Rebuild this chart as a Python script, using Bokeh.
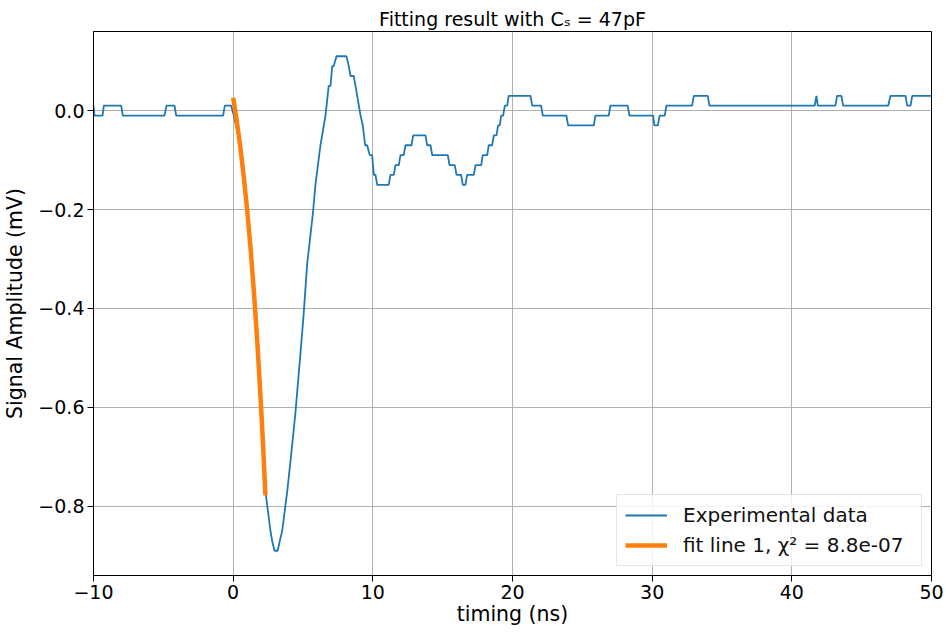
from bokeh.plotting import figure
from bokeh.models import (Range1d, FixedTicker, CustomJSTickFormatter, Legend,
                          LegendItem)
from bokeh.embed import file_html
from bokeh.resources import INLINE

# ---------------- data ----------------
time_ns = [-10.0, -9.93, -9.35, -9.26, -8.02, -7.9, -4.92, -4.77, -4.2, -4.08,
           -0.72, -0.6, -0.14, 0.05, 0.5, 1.0, 1.5, 2.0, 2.31, 2.67,
           2.79, 2.96, 3.19, 3.34, 3.51, 3.87, 4.10, 4.46, 4.82, 5.05,
           5.30, 5.70, 5.89, 6.25, 6.61, 6.84, 6.97, 7.09, 7.20, 7.40,
           8.11, 8.28, 8.40, 8.63, 8.76, 8.88, 9.0, 9.12, 9.28, 9.45,
           9.59, 9.78, 9.95, 10.07, 10.19, 10.31, 11.14, 11.26, 11.5, 11.62,
           11.86, 11.98, 12.21, 12.34, 12.77, 12.89, 13.77, 13.89, 14.13, 14.25,
           15.37, 15.49, 15.87, 15.99, 16.32, 16.44, 16.63, 16.75, 17.23, 17.35,
           17.76, 17.87, 18.19, 18.3, 18.54, 18.66, 18.85, 18.97, 19.09, 19.19,
           19.33, 19.45, 19.62, 19.73, 21.29, 21.41, 22.05, 22.17, 23.86, 23.98,
           25.82, 25.94, 26.89, 27.01, 28.25, 28.37, 30.07, 30.16, 30.4, 30.54,
           30.9, 31.02, 32.86, 32.98, 33.98, 34.1, 41.64, 41.76, 41.86, 43.12,
           43.24, 43.55, 43.67, 46.9, 47.06, 48.14, 48.26, 48.5, 48.62, 50.0]
amp_mv = [0.01, -0.01, -0.01, 0.01, 0.01, -0.01, -0.01, 0.01, 0.01, -0.01,
          -0.01, 0.01, 0.01, -0.01, -0.07, -0.19, -0.37, -0.59, -0.77, -0.85,
          -0.87, -0.89, -0.89, -0.87, -0.85, -0.77, -0.71, -0.61, -0.49, -0.41,
          -0.31, -0.21, -0.15, -0.07, -0.01, 0.05, 0.05, 0.09, 0.09, 0.11,
          0.11, 0.09, 0.07, 0.07, 0.05, 0.03, 0.01, -0.01, -0.03, -0.07,
          -0.07, -0.09, -0.09, -0.13, -0.13, -0.15, -0.15, -0.13, -0.13, -0.11,
          -0.11, -0.09, -0.09, -0.07, -0.07, -0.05, -0.05, -0.07, -0.07, -0.09,
          -0.09, -0.11, -0.11, -0.13, -0.13, -0.15, -0.15, -0.13, -0.13, -0.11,
          -0.11, -0.09, -0.09, -0.07, -0.07, -0.05, -0.05, -0.03, -0.03, -0.01,
          -0.01, 0.01, 0.01, 0.03, 0.03, 0.01, 0.01, -0.01, -0.01, -0.03,
          -0.03, -0.01, -0.01, 0.01, 0.01, -0.01, -0.01, -0.03, -0.03, -0.01,
          -0.01, 0.01, 0.01, 0.03, 0.03, 0.01, 0.01, 0.03, 0.01, 0.01,
          0.03, 0.03, 0.01, 0.01, 0.03, 0.03, 0.01, 0.01, 0.03, 0.03]

fit_time_ns = [0.0, 0.25, 0.5, 0.75, 1.0, 1.25, 1.5, 1.75, 2.0, 2.15, 2.31]
fit_amp_mv = [0.026, -0.019, -0.071, -0.131, -0.200, -0.280, -0.372, -0.478,
              -0.600, -0.682, -0.778]

x_ticks = [-10, 0, 10, 20, 30, 40, 50]
y_ticks = [-0.8, -0.6, -0.4, -0.2, 0.0]

title_text = "Fitting result with C\u209b = 47pF"
x_label = "timing (ns)"
y_label = "Signal Amplitude (mV)"
legend_labels = ["Experimental data", "fit line 1, \u03c7\u00b2 = 8.8e-07"]

assert len(time_ns) == len(amp_mv)

FONT = "DejaVu Sans"
BLUE = "#1f77b4"
ORANGE = "#ff7f0e"

p = figure(width=946, height=632,
           x_range=Range1d(-10, 50), y_range=Range1d(-0.94, 0.16),
           output_backend="svg", toolbar_location=None,
           min_border_left=93, min_border_right=15,
           min_border_top=31, min_border_bottom=57,
           background_fill_color="white", border_fill_color="white")

r_exp = p.line(time_ns, amp_mv, line_color=BLUE, line_width=1.8)
r_fit = p.line(fit_time_ns, fit_amp_mv, line_color=ORANGE, line_width=4.5,
               line_join="round")

# title
p.title.text = title_text
p.title.align = "center"
p.title.text_font = FONT
p.title.text_font_size = "19px"
p.title.text_font_style = "normal"
p.title.text_color = "black"
p.title.standoff = 3

# axes
p.xaxis.ticker = FixedTicker(ticks=x_ticks)
p.yaxis.ticker = FixedTicker(ticks=y_ticks)
p.xaxis.formatter = CustomJSTickFormatter(
    code="return tick.toFixed(0).replace('-', '\\u2212');")
p.yaxis.formatter = CustomJSTickFormatter(
    code="return tick.toFixed(1).replace('-', '\\u2212');")
for ax in (p.xaxis, p.yaxis):
    ax.major_label_text_font = FONT
    ax.major_label_text_font_size = "19px"
    ax.major_label_text_color = "black"
    ax.axis_label_text_font = FONT
    ax.axis_label_text_font_size = "20.5px"
    ax.axis_label_text_font_style = "normal"
    ax.axis_label_text_color = "black"
    ax.major_tick_in = 0
    ax.major_tick_out = 6
    ax.minor_tick_in = 0
    ax.minor_tick_out = 0
    ax.axis_line_color = "black"
    ax.major_tick_line_color = "black"
    ax.major_label_standoff = 3
p.xaxis.axis_label = x_label
p.yaxis.axis_label = y_label
p.xaxis.axis_label_standoff = 0
p.yaxis.axis_label_standoff = 8

p.grid.grid_line_color = "#b0b0b0"
p.grid.grid_line_width = 1
p.outline_line_color = "black"
p.outline_line_width = 1

legend = Legend(items=[LegendItem(label=legend_labels[0], renderers=[r_exp]),
                       LegendItem(label=legend_labels[1], renderers=[r_fit])],
                location="bottom_right")
legend.label_text_font = FONT
legend.label_text_font_size = "20px"
legend.label_text_color = "#111111"
legend.glyph_width = 42
legend.glyph_height = 22
legend.label_height = 22
legend.label_width = 230
legend.label_standoff = 16
legend.spacing = 6
legend.padding = 8
legend.margin = 9
legend.border_line_color = "#cccccc"
legend.border_line_width = 1
legend.background_fill_alpha = 0.85
p.add_layout(legend)

open("out.html", "w").write(file_html(p, INLINE))
